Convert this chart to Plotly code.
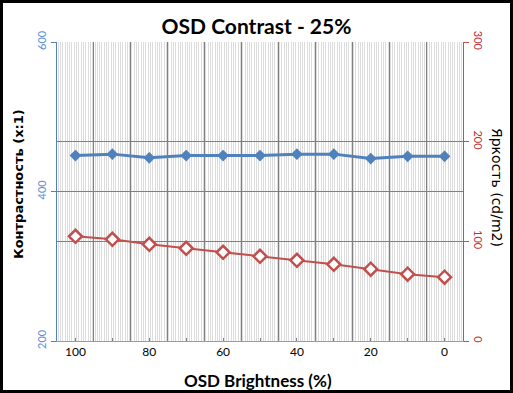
import plotly.graph_objects as go

# ---- data ----
brightness = [100, 90, 80, 70, 60, 50, 40, 30, 20, 10, 0]
contrast = [448, 450, 445, 448, 448, 448, 450, 450, 444, 447, 447]
luminance = [105, 102, 97, 93, 89, 85, 81, 77, 72, 67, 64]
x_labels = ["100", "", "80", "", "60", "", "40", "", "20", "", "0"]

title_text = "OSD Contrast - 25%"
x_title = "OSD Brightness (%)"
y_title = "Контрастность (x:1)"
y2_title = "Яркость (cd/m2)"

BLUE = "#4F81BD"
RED = "#C0504D"
GRID = "#808080"
STRIPE = "#dcdcdc"

W, H = 513, 393
ML, MR, MT, MB = 57, 50, 42, 52
PW, PH = W - ML - MR, H - MT - MB

# category boundaries (between points)
bounds = [(a + b) / 2 for a, b in zip(brightness[:-1], brightness[1:])]
step = brightness[0] - brightness[1]
xr = [brightness[0] + step / 2, brightness[-1] - step / 2]

fig = go.Figure()
fig.add_trace(go.Scatter(
    x=brightness, y=contrast, mode="lines+markers",
    line=dict(color=BLUE, width=3),
    marker=dict(symbol="diamond", size=9, color=BLUE),
    xaxis="x", yaxis="y", showlegend=False, hoverinfo="skip"))
fig.add_trace(go.Scatter(
    x=brightness, y=luminance, mode="lines+markers",
    line=dict(color=RED, width=2),
    marker=dict(symbol="diamond", size=10, color="white",
                line=dict(color=RED, width=2.5)),
    xaxis="x2", yaxis="y2", showlegend=False, hoverinfo="skip"))

font_lbl = "Lato, 'Liberation Sans', sans-serif"

fig.update_layout(
    width=W, height=H,
    margin=dict(l=ML, r=MR, t=MT, b=MB, autoexpand=False),
    paper_bgcolor="white", plot_bgcolor="white",
    title=dict(text=f"<b>{title_text}</b>", x=0.5, xref="container",
               y=1 - 27 / H, yref="container", yanchor="middle", xanchor="center",
               font=dict(family=font_lbl, size=21, color="black")),
    xaxis=dict(range=xr, autorange=False, automargin=False,
               tickmode="array", tickvals=brightness, ticktext=x_labels,
               showgrid=False, zeroline=False,
               ticks="inside", ticklen=3, tickcolor="#7f7f7f", tickwidth=1,
               showline=True, linecolor="#8a9fbf", linewidth=1,
               tickfont=dict(family=font_lbl, size=12, color="black"),
               minor=dict(tickmode="array", tickvals=bounds, showgrid=True,
                          gridcolor=GRID, gridwidth=1.3, ticks="")),
    xaxis2=dict(range=xr, autorange=False, overlaying="x", anchor="y2",
                automargin=False,
                showticklabels=False, showgrid=False, zeroline=False,
                ticks="", showline=False,
                minor=dict(tick0=step / 2 + step / 32, dtick=step / 16,
                           showgrid=True, gridcolor=STRIPE, gridwidth=1, ticks="")),
    yaxis=dict(range=[200, 600], autorange=False, dtick=200, tick0=200,
               automargin=False,
               showgrid=True, gridcolor=GRID, gridwidth=1.3, zeroline=False,
               showline=True, linecolor=BLUE, linewidth=1.3,
               ticks="outside", ticklen=5, tickcolor=BLUE,
               tickangle=-90,
               tickfont=dict(family=font_lbl, size=11, color="#5b8fd6")),
    yaxis2=dict(range=[0, 300], autorange=False, dtick=100, tick0=0,
                automargin=False,
                overlaying="y", side="right", anchor="x",
                showgrid=True, gridcolor=GRID, gridwidth=1.3, zeroline=False,
                showline=True, linecolor=RED, linewidth=1.3,
                ticks="outside", ticklen=5, tickcolor=RED,
                tickangle=90,
                tickfont=dict(family=font_lbl, size=11, color="#c03030")),
    annotations=[
        dict(text=f"<b>{x_title}</b>", xref="paper", yref="paper",
             x=(258 - ML) / PW, y=(H - MB - 380) / PH, showarrow=False,
             xanchor="center", yanchor="middle",
             font=dict(family=font_lbl, size=17, color="black")),
        dict(text=f"<b>{y_title}</b>", xref="paper", yref="paper",
             x=(18 - ML) / PW, y=(H - MB - 184) / PH, showarrow=False,
             textangle=-90, xanchor="center", yanchor="middle",
             font=dict(family="DejaVu Sans", size=13, color="black")),
        dict(text=y2_title, xref="paper", yref="paper",
             x=(497 - ML) / PW, y=(H - MB - 187) / PH, showarrow=False,
             textangle=90, xanchor="center", yanchor="middle",
             font=dict(family="DejaVu Sans", size=14, color="black")),
    ],
    shapes=[dict(type="rect", xref="paper", yref="paper", layer="above",
                 x0=(1.5 - ML) / PW, x1=(511.5 - ML) / PW,
                 y0=(H - MB - 391.5) / PH, y1=(H - MB - 1.5) / PH,
                 line=dict(color="black", width=3), fillcolor="rgba(0,0,0,0)")],
)

fig.write_html("out.html", config={"displayModeBar": False},
               post_script="document.body.style.margin='0';")
